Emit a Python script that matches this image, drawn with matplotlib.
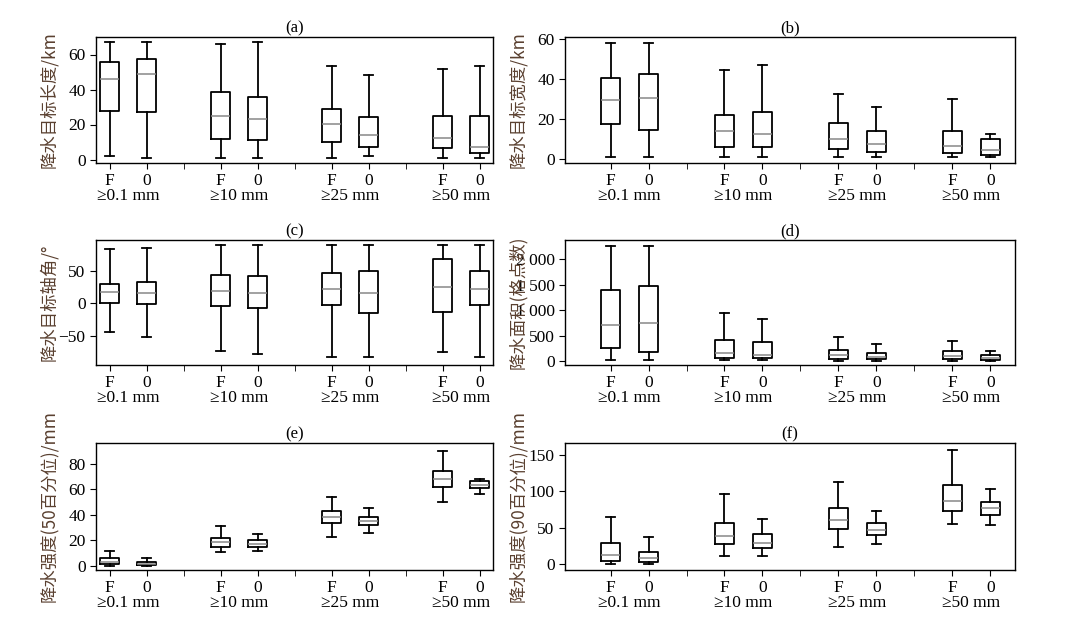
import matplotlib
matplotlib.use("Agg")
import matplotlib.pyplot as plt
from matplotlib.ticker import FuncFormatter

plt.rcParams['font.family'] = ['Liberation Serif', 'Noto Sans CJK SC']
plt.rcParams['font.size'] = 12

groups = ['≥0.1 mm', '≥10 mm', '≥25 mm', '≥50 mm']
box_labels = ['F', '0']
# each box: (low whisker, q1, median, q3, high whisker); order F,0 per group
stats_a = [(2,28,46,56,67),(1,27,49,57.5,67),(1,11.5,25,38.5,66),(1,11,23,35.5,67),
           (1,10,20.5,29,53.5),(2,7,14,24.5,48.5),(1,6.5,12.5,25,52),(1,4,7,25,53.5)]
stats_b = [(1,17.5,29.5,40.5,58),(1,14.5,30.5,42.5,58),(1,6,14,22,44.5),(1,6,12.5,23.5,47),
           (1,5,10,18,32.5),(1,3.5,7.5,14,26),(1,3,6.5,14,30),(1,2,4.5,10,12.5)]
stats_c = [(-45,0,17,30,83),(-52,-2,16,33,85),(-73,-5,18,43,90),(-78,-8,15,42,90),
           (-82,-3,22,47,90),(-82,-15,15,50,90),(-75,-13,25,68,90),(-82,-3,22,50,90)]
stats_d = [(20,250,700,1400,2270),(20,180,750,1480,2270),(10,60,150,420,940),(10,50,120,370,820),
           (5,40,110,210,470),(5,30,80,150,330),(5,40,90,190,400),(5,20,50,110,190)]
stats_e = [(0,1.5,3,6,12),(0,1,2,3.5,6),(11,15,18.5,22,31),(12,15,17,20,25),
           (23,34,38,43,54),(26,32,35,38,45),(50,62,68,74,90),(56,61,63.5,66,68)]
stats_f = [(0,4,12,29,65),(0,3,9,17,37),(11,27,38,56,96),(11,22,29,41,62),
           (23,48,61,77,112),(28,40,47,56,73),(55,73,87,108,157),(54,68,77,85,103)]

panels = [
    ('(a)', '降水目标长度/km', stats_a, (-2, 70), [0,20,40,60]),
    ('(b)', '降水目标宽度/km', stats_b, (-2, 61), [0,20,40,60]),
    ('(c)', '降水目标轴角/°', stats_c, (-95, 97), [-50,0,50]),
    ('(d)', '降水面积(格点数)', stats_d, (-80, 2380), [0,500,1000,1500,2000]),
    ('(e)', '降水强度(50百分位)/mm', stats_e, (-3, 96), [0,20,40,60,80]),
    ('(f)', '降水强度(90百分位)/mm', stats_f, (-8, 166), [0,50,100,150]),
]

positions = [1,2,4,5,7,8,10,11]
W, H = 1087, 626
fig = plt.figure(figsize=(W/100, H/100), dpi=100)
lefts = [96, 565]
rows = [(37,163),(240,365),(443,570)]
widths = [397, 450]
xlims = [(0.63, 11.36), (-0.2, 11.65)]
lab_x = [-0.095, -0.085]
lab_color = '#5a4030'

def fmt(v, p):
    v = int(round(v))
    s = f"{abs(v):,}".replace(',', ' ')
    return ('−' if v < 0 else '') + s

for i, (title, ylab, st, ylim, yt) in enumerate(panels):
    r, c = divmod(i, 2)
    t, b = rows[r]
    ax = fig.add_axes([lefts[c]/W, 1-b/H, widths[c]/W, (b-t)/H])
    bx = [dict(whislo=s[0], q1=s[1], med=s[2], q3=s[3], whishi=s[4], fliers=[]) for s in st]
    ax.bxp(bx, positions=positions, widths=0.5, showfliers=False,
           boxprops=dict(color='black', lw=1.3), whiskerprops=dict(color='black', lw=1.3),
           capprops=dict(color='black', lw=1.3), capwidths=0.25,
           medianprops=dict(color='#888888', lw=1.1))
    ax.set_xlim(*xlims[c])
    ax.set_ylim(*ylim)
    ax.set_yticks(yt)
    ax.yaxis.set_major_formatter(FuncFormatter(fmt))
    ax.set_xticks(positions)
    ax.set_xticklabels(box_labels*4, fontsize=12.5)
    ax.set_xticks([3,6,9], minor=True)
    ax.tick_params(axis='x', which='minor', length=4)
    ax.tick_params(axis='both', which='major', length=4, labelsize=12.5)
    for g, gname in enumerate(groups):
        ax.text(positions[2*g]+0.5, -0.2, gname, transform=ax.get_xaxis_transform(),
                ha='center', va='top', fontsize=12.5)
    ax.set_title(title, fontsize=12, pad=3)
    ax.set_ylabel(ylab, color=lab_color, fontsize=12.5, family=['Noto Sans CJK SC'])
    ax.yaxis.set_label_coords(lab_x[c], 0.5)
    for sp in ax.spines.values():
        sp.set_linewidth(1.0)

fig.savefig('out.png', dpi=100)
